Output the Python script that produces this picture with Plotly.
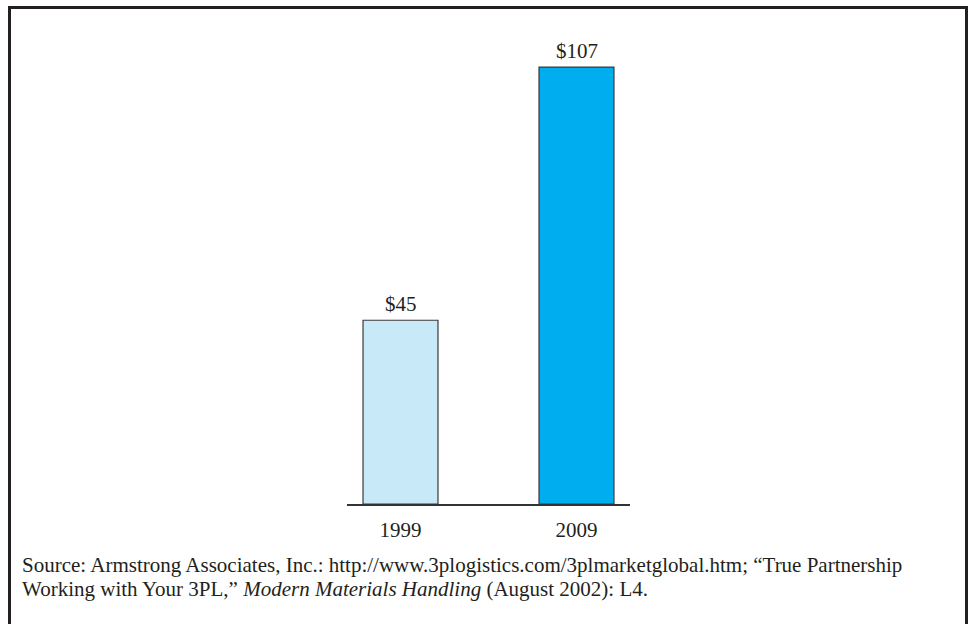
import plotly.graph_objects as go

# Chart data
years = ["1999", "2009"]
revenue = [45, 107]
value_labels = ["$45", "$107"]
bar_colors = ["#c7e9f8", "#00aeef"]

source_lines = [
    "Source: Armstrong Associates, Inc.: http://www.3plogistics.com/3plmarketglobal.htm; "
    "\u201cTrue Partnership",
    "Working with Your 3PL,\u201d <i>Modern Materials Handling</i> (August 2002): L4.",
]

W, H = 972, 624
L, R, T, B = 347, 342, 14, 120
PW, PH = W - L - R, H - T - B


def px_x(x):
    return (x - L) / PW


def px_y(y):
    return 1 - (y - T) / PH


SERIF = "Liberation Serif"
INK = "#231f20"

fig = go.Figure(
    go.Bar(
        x=years,
        y=revenue,
        marker=dict(color=bar_colors, line=dict(color="#3a3a3a", width=1.2)),
        width=0.426,
        hoverinfo="skip",
    )
)

# Value labels above each bar (category index positions)
for i, (v, lab) in enumerate(zip(revenue, value_labels)):
    fig.add_annotation(
        x=i, y=v, text=lab, showarrow=False, yanchor="bottom", yshift=2,
        font=dict(family=SERIF, size=21, color=INK),
    )

# Source note, two lines
for line, yc in zip(source_lines, [565, 589]):
    fig.add_annotation(
        xref="paper", yref="paper", x=px_x(20), y=px_y(yc), xanchor="left", yanchor="middle",
        align="left", text=line, showarrow=False,
        font=dict(family=SERIF, size=21, color=INK),
    )

# Frame around the figure (open at the bottom)
frame = dict(color=INK, width=3)
fig.add_shape(type="line", xref="paper", yref="paper",
              x0=px_x(8), x1=px_x(968), y0=px_y(7.5), y1=px_y(7.5), line=frame)
fig.add_shape(type="line", xref="paper", yref="paper",
              x0=px_x(9.5), x1=px_x(9.5), y0=px_y(6), y1=px_y(630), line=frame)
fig.add_shape(type="line", xref="paper", yref="paper",
              x0=px_x(966.5), x1=px_x(966.5), y0=px_y(6), y1=px_y(630), line=frame)

fig.update_layout(
    width=W, height=H,
    margin=dict(l=L, r=R, t=T, b=B, pad=0),
    paper_bgcolor="white", plot_bgcolor="white",
    showlegend=False,
    xaxis=dict(
        type="category",
        range=[-0.304, 1.304], showline=True, linecolor="#333333", linewidth=1.5,
        showgrid=False, zeroline=False, ticks="", ticklabelstandoff=6,
        tickfont=dict(family=SERIF, size=21, color=INK),
    ),
    yaxis=dict(range=[0, 120], visible=False),
)

fig.write_html("out.html")
